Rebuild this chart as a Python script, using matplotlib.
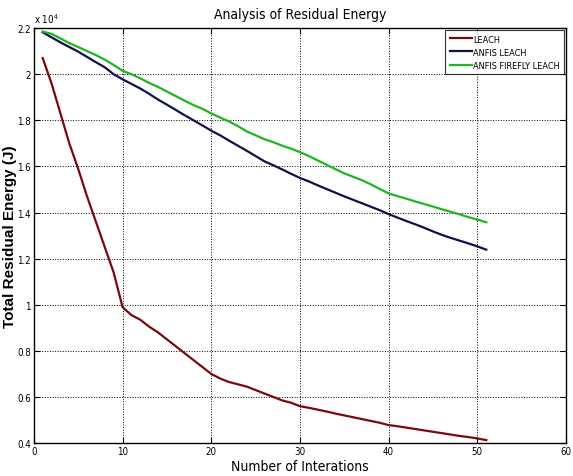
import numpy as np
import matplotlib
matplotlib.use('Agg')
from matplotlib import pyplot as plt
from matplotlib import font_manager as fm
from matplotlib.ticker import FuncFormatter

# pick a narrow face if one is installed (matlab-ish look)
names = {f.name for f in fm.fontManager.ttflist}
narrow = [n for n in ['Liberation Sans Narrow', 'DejaVu Sans Condensed'] if n in names]
cond_dejavu = any(f.name == 'DejaVu Sans' and f.stretch == 'condensed' for f in fm.fontManager.ttflist)
if narrow:
    fam = [narrow[0], 'DejaVu Sans']
    stretch = 'normal'
else:
    fam = ['DejaVu Sans']
    stretch = 'condensed' if cond_dejavu else 'normal'
plt.rcParams['font.family'] = fam
plt.rcParams['font.stretch'] = stretch

iterations = np.arange(1, 52)

# residual energy, units of 10^4 J
leach = [2.07, 1.96, 1.83, 1.70, 1.59, 1.47, 1.36, 1.25, 1.14, 0.99,
         0.955, 0.935, 0.905, 0.88, 0.85, 0.82, 0.79, 0.76, 0.73, 0.70,
         0.68, 0.665, 0.655, 0.645, 0.63, 0.615, 0.60, 0.585, 0.575, 0.56,
         0.553, 0.545, 0.537, 0.528, 0.52, 0.512, 0.504, 0.496, 0.488, 0.478,
         0.473, 0.467, 0.461, 0.455, 0.449, 0.443, 0.437, 0.431, 0.426, 0.42, 0.413]

anfis_leach = [2.182, 2.160, 2.138, 2.118, 2.098, 2.075, 2.052, 2.030, 2.000, 1.978,
               1.958, 1.938, 1.915, 1.890, 1.868, 1.845, 1.822, 1.800, 1.778, 1.755,
               1.735, 1.712, 1.690, 1.668, 1.645, 1.622, 1.605, 1.587, 1.568, 1.550,
               1.535, 1.518, 1.502, 1.486, 1.470, 1.455, 1.440, 1.425, 1.410, 1.393,
               1.378, 1.363, 1.349, 1.334, 1.318, 1.303, 1.290, 1.278, 1.266, 1.253, 1.239]

anfis_firefly = [2.185, 2.175, 2.155, 2.135, 2.118, 2.100, 2.083, 2.063, 2.040, 2.015,
                 2.000, 1.982, 1.962, 1.945, 1.925, 1.905, 1.885, 1.866, 1.850, 1.830,
                 1.812, 1.795, 1.775, 1.752, 1.735, 1.718, 1.705, 1.690, 1.677, 1.662,
                 1.645, 1.626, 1.607, 1.588, 1.570, 1.555, 1.540, 1.522, 1.502, 1.483,
                 1.471, 1.460, 1.448, 1.437, 1.426, 1.414, 1.403, 1.392, 1.380, 1.369, 1.358]

fig = plt.figure(figsize=(5.73, 4.77), dpi=100)
ax = fig.add_axes([0.059, 0.069, 0.929, 0.870])

ax.plot(iterations, leach, color='#7a0a0a', lw=1.6, label='LEACH')
ax.plot(iterations, anfis_leach, color='#10104a', lw=1.6, label='ANFIS LEACH')
ax.plot(iterations, anfis_firefly, color='#1fb51f', lw=1.6, label='ANFIS FIREFLY LEACH')

ax.set_xlim(0, 60)
ax.set_ylim(0.4, 2.2)
ax.set_xticks(np.arange(0, 61, 10))
ax.set_yticks(np.arange(0.4, 2.21, 0.2))
ax.yaxis.set_major_formatter(FuncFormatter(lambda v, p: '%g' % round(v, 1)))
ax.tick_params(direction='in', top=True, right=True, labelsize=7, length=4, pad=2)
ax.grid(True, color='black', linestyle=':', linewidth=0.7)
for s in ax.spines.values():
    s.set_linewidth(1.0)

ax.set_title('Analysis of Residual Energy', fontsize=10, pad=7)
ax.set_xlabel('Number of Interations', fontsize=10, labelpad=2)
ax.set_ylabel('Total Residual Energy (J)', fontsize=11, fontweight='bold',
              family=['Liberation Sans', 'DejaVu Sans'], stretch='normal')
ax.yaxis.set_label_coords(-0.032, 0.5)
ax.text(0.0, 1.008, r'x 10$^4$', transform=ax.transAxes, fontsize=7, va='bottom')

leg = ax.legend(loc='upper right', fontsize=6.6, frameon=True, fancybox=False,
                edgecolor='black', borderaxespad=0.2, handlelength=2.4,
                handletextpad=0.15, labelspacing=0.45, borderpad=0.5)
leg.get_frame().set_linewidth(0.8)

fig.savefig('out.png', dpi=100)
